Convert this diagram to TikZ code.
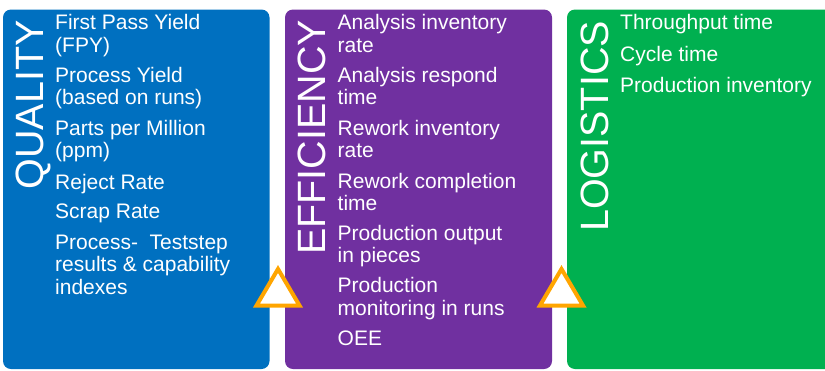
\documentclass[tikz,border=0pt]{standalone}
\usepackage{fontspec}
\setmainfont{Liberation Sans}
\definecolor{qblue}{HTML}{0070C0}
\definecolor{epurple}{HTML}{7030A0}
\definecolor{lgreen}{HTML}{00B050}
\definecolor{torange}{HTML}{FFA500}
\newcommand{\mlines}[1]{\begin{tabular}[t]{@{}l@{}}#1\end{tabular}}
\begin{document}
\begin{tikzpicture}[x=1pt,y=-1pt,
  panel/.style={rounded corners=8pt},
  item/.style={anchor=base west,inner sep=0pt,text=white,font=\fontsize{21}{22.5}\selectfont},
  title/.style={rotate=90,anchor=base,inner sep=0pt,text=white,font=\fontsize{39.5}{40}\selectfont},
  tri/.style={draw=torange,fill=white,line width=4pt}]
\useasboundingbox (0,0) rectangle (825,370);
\clip (0,0) rectangle (825,370);
% panels
\fill[qblue,panel] (3,9.5) rectangle (269.5,369);
\fill[epurple,panel] (285,9.5) rectangle (552,369);
\fill[lgreen,panel] (567,9.5) rectangle (840,369);
% titles
\node[title] (tq) at (43,105) {QUALITY};
\node[title] (te) at (325,137.5) {EFFICIENCY};
\node[title] (tl) at (608,126.5) {LOGISTICS};
% quality items
\node[item] (q1) at (55,29.5) {\mlines{First Pass Yield\\(FPY)}};
\node[item] (q2) at (55,82) {\mlines{Process Yield\\(based on runs)}};
\node[item] (q3) at (55,135) {\mlines{Parts per Million\\(ppm)}};
\node[item] (q4) at (55,189) {Reject Rate};
\node[item] (q5) at (55,218) {Scrap Rate};
\node[item] (q6) at (55,249) {\mlines{Process-\ \ Teststep\\results \& capability\\indexes}};
% efficiency items
\node[item] (e1) at (337.5,29.5) {\mlines{Analysis inventory\\rate}};
\node[item] (e2) at (337.5,82) {\mlines{Analysis respond\\time}};
\node[item] (e3) at (337.5,135) {\mlines{Rework inventory\\rate}};
\node[item] (e4) at (337.5,188) {\mlines{Rework completion\\time}};
\node[item] (e5) at (337.5,240) {\mlines{Production output\\in pieces}};
\node[item] (e6) at (337.5,292.5) {\mlines{Production\\monitoring in runs}};
\node[item] (e7) at (337.5,345) {OEE};
% logistics items
\node[item] (l1) at (620,29.5) {Throughput time};
\node[item] (l2) at (620,61) {Cycle time};
\node[item] (l3) at (620,92) {Production inventory};
% triangles
\draw[tri] (278,269) -- (299.5,305.5) -- (256.5,305.5) -- cycle;
\draw[tri] (561.5,269) -- (583,305.5) -- (540,305.5) -- cycle;
\end{tikzpicture}
\end{document}
